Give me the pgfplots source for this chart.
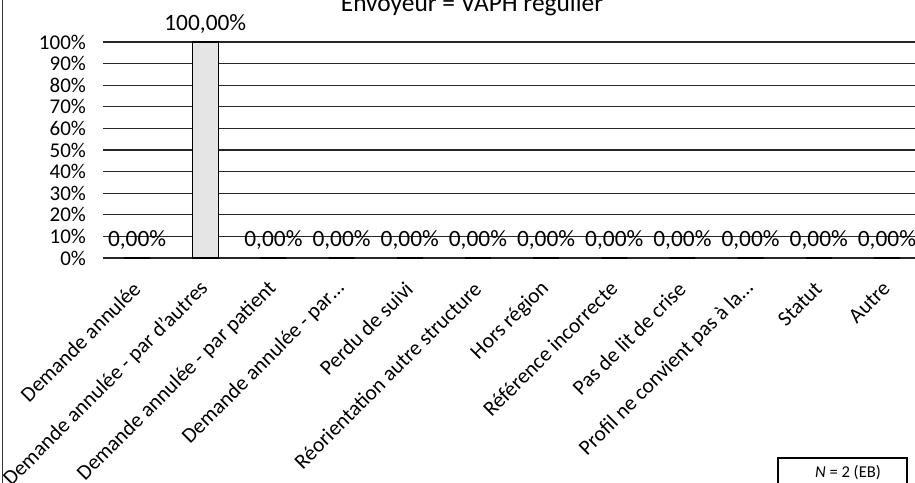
\documentclass[border=0pt]{standalone}
\usepackage{fontspec}
\setmainfont{Carlito}
\usepackage{pgfplots}
\pgfplotsset{compat=1.18}
\begin{document}
\begin{tikzpicture}[x=1pt,y=1pt]
\begin{axis}[
  at={(51.5pt,112pt)}, anchor=south west,
  scale only axis, width=409pt, height=108pt,
  ymin=0, ymax=100, xmin=-0.5, xmax=11.5,
  ytick={0,10,...,100},
  yticklabel={\pgfmathparse{int(round(\tick))}\pgfmathresult\%},
  yticklabel style={font=\fontsize{10.5}{12}\selectfont, xshift=-5pt},
  xtick={0,...,11},
  xticklabels={Demande annulée, Demande annulée - par d'autres, Demande annulée - par patient, Demande annulée - par…, Perdu de suivi, Réorientation autre structure, Hors région, Référence incorrecte, Pas de lit de crise, Profil ne convient pas à la…, Statut, Autre},
  xticklabel style={font=\fontsize{10.7}{12}\selectfont, rotate=45, anchor=east, xshift=-6.3pt, yshift=-9.5pt},
  axis line style={draw=none},
  major tick length=0pt,
  ymajorgrids, grid style={black!85, line width=0.65pt},
  ybar, bar width=13pt,
  nodes near coords={\pgfmathprintnumber[fixed, fixed zerofill, precision=2, use comma, assume math mode=true]{\pgfplotspointmeta}\%},
  every node near coord/.append style={font=\fontsize{11.7}{13}\selectfont, anchor=base, yshift=5.75pt},
  clip=false,
]
\addplot[draw=black, line width=0.6pt, fill=black!10] coordinates {
(0,0) (1,100) (2,0) (3,0) (4,0) (5,0) (6,0) (7,0) (8,0) (9,0) (10,0) (11,0)};
\end{axis}
\node[anchor=base, font=\fontsize{12.7}{14}\selectfont] at (236pt,235pt) {Envoyeur = VAPH régulier};
\draw[line width=0.5pt, black!80] (1pt,-5pt) -- (1pt,250pt);
\draw[line width=0.6pt] (389pt,-5pt) rectangle (453.5pt,12pt);
\node[font=\fontsize{8.3}{10}\selectfont] at (424pt,4.5pt) {\textit{N} = 2 (EB)};
\pgfresetboundingbox
\path[use as bounding box] (0,0) rectangle (457.5pt,241pt);
\end{tikzpicture}
\end{document}
